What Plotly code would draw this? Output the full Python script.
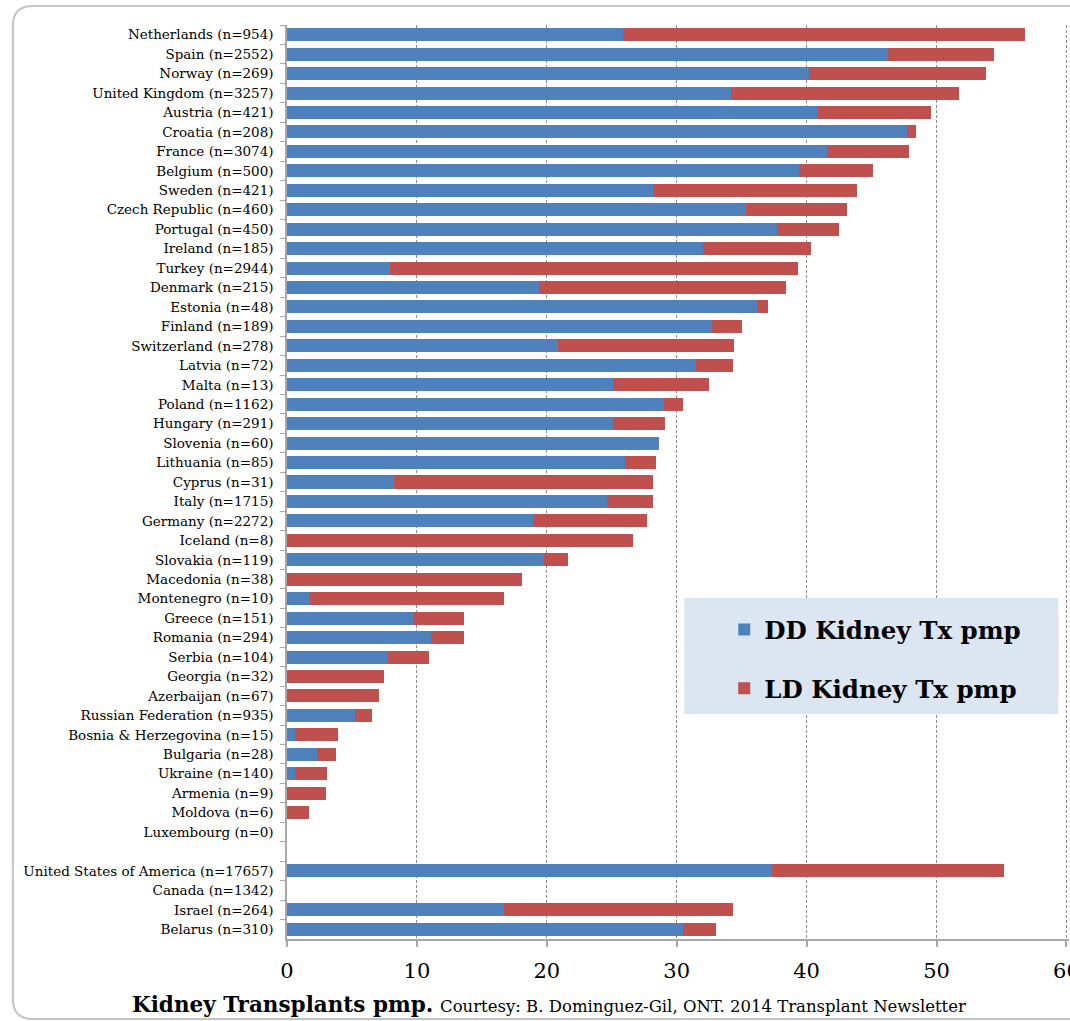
import plotly.graph_objects as go

countries = [
    "Netherlands (n=954)", "Spain (n=2552)", "Norway (n=269)", "United Kingdom (n=3257)",
    "Austria (n=421)", "Croatia (n=208)", "France (n=3074)", "Belgium (n=500)",
    "Sweden (n=421)", "Czech Republic (n=460)", "Portugal (n=450)", "Ireland (n=185)",
    "Turkey (n=2944)", "Denmark (n=215)", "Estonia (n=48)", "Finland (n=189)",
    "Switzerland (n=278)", "Latvia (n=72)", "Malta (n=13)", "Poland (n=1162)",
    "Hungary (n=291)", "Slovenia (n=60)", "Lithuania (n=85)", "Cyprus (n=31)",
    "Italy (n=1715)", "Germany (n=2272)", "Iceland (n=8)", "Slovakia (n=119)",
    "Macedonia (n=38)", "Montenegro (n=10)", "Greece (n=151)", "Romania (n=294)",
    "Serbia (n=104)", "Georgia (n=32)", "Azerbaijan (n=67)", "Russian Federation (n=935)",
    "Bosnia & Herzegovina (n=15)", "Bulgaria (n=28)", "Ukraine (n=140)", "Armenia (n=9)",
    "Moldova (n=6)", "Luxembourg (n=0)", " ",
    "United States of America (n=17657)", "Canada (n=1342)", "Israel (n=264)", "Belarus (n=310)",
]

dd_pmp = [
    25.9, 46.3, 40.2, 34.2,
    40.8, 47.7, 41.6, 39.4,
    28.2, 35.3, 37.7, 32.0,
    7.9, 19.4, 36.2, 32.7,
    20.9, 31.5, 25.1, 29.0,
    25.1, 28.6, 26.0, 8.2,
    24.6, 18.9, 0.0, 19.8,
    0.0, 1.7, 9.7, 11.1,
    7.8, 0.0, 0.0, 5.2,
    0.6, 2.3, 0.6, 0.0,
    0.0, 0.0, None,
    37.3, 0.0, 16.7, 30.5,
]

ld_pmp = [
    30.9, 8.1, 13.6, 17.5,
    8.8, 0.7, 6.3, 5.7,
    15.7, 7.8, 4.8, 8.3,
    31.4, 19.0, 0.8, 2.3,
    13.5, 2.8, 7.4, 1.5,
    4.0, 0.0, 2.4, 20.0,
    3.6, 8.8, 26.6, 1.8,
    18.1, 15.0, 3.9, 2.5,
    3.1, 7.5, 7.1, 1.35,
    3.35, 1.5, 2.5, 3.0,
    1.7, 0.0, None,
    17.9, 0.0, 17.6, 2.5,
]

x_ticks = [0, 10, 20, 30, 40, 50, 60]
x_max = 60.2

DD_COLOR = "#4F81BD"
LD_COLOR = "#C0504D"
FONT = "DejaVu Serif"

W, H = 1070, 1021
ML, MT, MB = 287, 25, 82
PW = 779 * x_max / 60.0
MR = W - ML - PW
PH = H - MT - MB


def px(x):
    return (x - ML) / PW


def py(y):
    return (H - MB - y) / PH


fig = go.Figure()
fig.add_trace(go.Bar(
    y=countries, x=dd_pmp, orientation="h", name="DD Kidney Tx pmp",
    marker=dict(color=DD_COLOR, line=dict(width=0)), legendgroup="dd",
))
fig.add_trace(go.Bar(
    y=countries, x=ld_pmp, orientation="h", name="LD Kidney Tx pmp",
    marker=dict(color=LD_COLOR, line=dict(width=0)), legendgroup="ld",
))

# rounded outer frame
l, t, r, b, rad = px(13), py(6), px(1080), py(1019), 20
rx, ry = rad / PW, rad / PH
frame = (f"M {r},{t} L {l + rx},{t} Q {l},{t} {l},{t - ry} "
         f"L {l},{b + ry} Q {l},{b} {l + rx},{b} L {r},{b}")

shapes = [
    dict(type="path", xref="paper", yref="paper", path=frame,
         line=dict(color="#C4C4C4", width=2), layer="below"),
    dict(type="rect", xref="paper", yref="paper",
         x0=px(684), x1=px(1058), y0=py(714), y1=py(598),
         fillcolor="#DCE6F2", line=dict(width=0), layer="above"),
]

fig.update_layout(
    width=W, height=H,
    margin=dict(l=ML, r=MR, t=MT, b=MB, pad=0, autoexpand=False),
    paper_bgcolor="white", plot_bgcolor="white",
    barmode="stack", bargap=0.33,
    font=dict(family=FONT, color="#000000"),
    showlegend=True,
    legend=dict(
        x=px(724), y=py(607), xanchor="left", yanchor="top",
        bgcolor="rgba(0,0,0,0)", borderwidth=0,
        font=dict(family=FONT, size=24.5, color="#000000", weight="bold"),
        tracegroupgap=24, traceorder="grouped",
    ),
    shapes=shapes,
    annotations=[dict(
        xref="paper", yref="paper", x=px(130), y=py(1004),
        xanchor="left", yanchor="middle", showarrow=False,
        text=("<b>Kidney Transplants pmp.</b> "
              "<span style='font-size:16.5px'>Courtesy: B. Dominguez-Gil, ONT. 2014 Transplant Newsletter</span>"),
        font=dict(family=FONT, size=21.5, color="#000000"),
    )],
)

fig.update_xaxes(
    range=[0, x_max], tickvals=x_ticks, ticktext=[str(v) for v in x_ticks],
    showgrid=True, gridcolor="#8C8C8C", gridwidth=1, griddash="3px,2px",
    showline=True, linecolor="#A6A6A6", linewidth=2,
    ticks="outside", ticklen=6, tickcolor="#A6A6A6", tickwidth=1.5,
    tickfont=dict(family=FONT, size=21, color="#000000"),
    ticklabelstandoff=6, ticklabeloverflow="allow",
    zeroline=False, fixedrange=True, automargin=False,
)
fig.update_yaxes(
    type="category", categoryorder="array", categoryarray=countries,
    autorange="reversed",
    showline=True, linecolor="#A6A6A6", linewidth=1.5,
    ticks="outside", tickson="boundaries", ticklen=5, tickcolor="#A6A6A6",
    tickfont=dict(family=FONT, size=13.5, color="#000000"),
    ticklabelstandoff=9,
    showgrid=False, zeroline=False, fixedrange=True, automargin=False,
)

fig.write_html(
    "out.html",
    config={"displayModeBar": False},
    post_script="document.body.style.margin='0';document.body.style.overflow='hidden';",
)
